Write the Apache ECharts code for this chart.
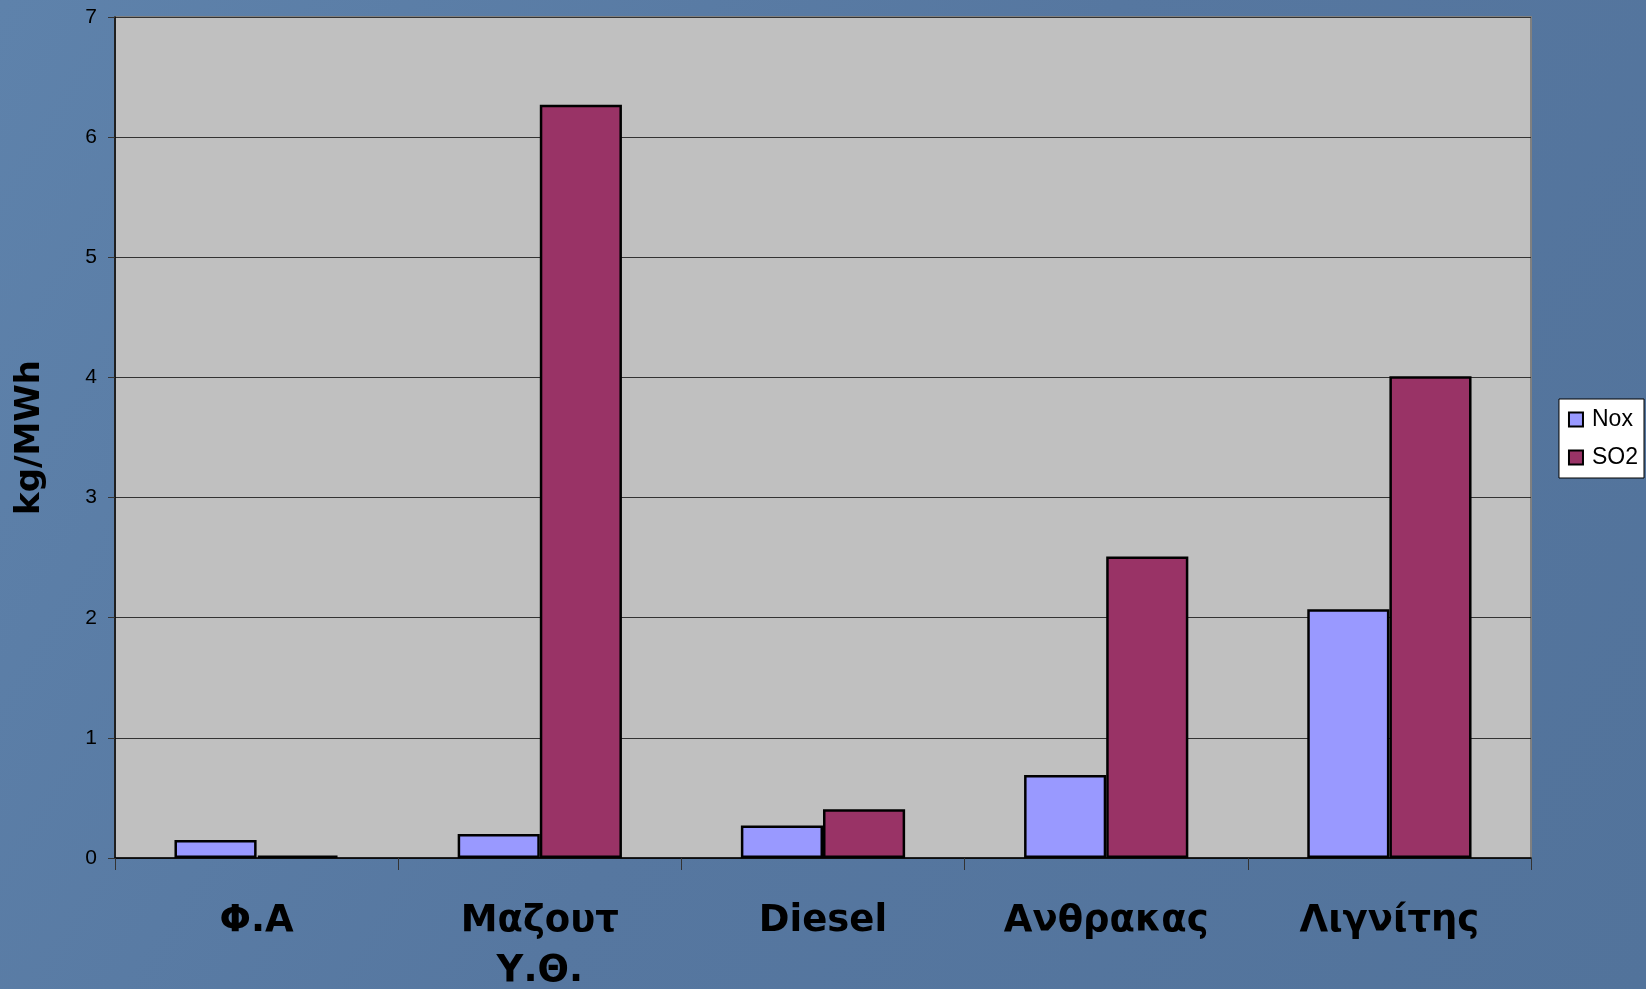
<!DOCTYPE html>
<html><head><meta charset="utf-8">
<script src="https://cdn.jsdelivr.net/npm/echarts@6/dist/echarts.min.js"></script>
<style>html,body{margin:0;padding:0;background:#5879a1;}#c{width:1646px;height:989px;}</style>
</head><body><div id="c"></div>
<script>
const categories = ['Φ.Α', 'Μαζουτ\nΥ.Θ.', 'Diesel', 'Ανθρακας', 'Λιγνίτης'];
const noxValues = [0.15, 0.2, 0.27, 0.69, 2.07];
const so2Values = [0.02, 6.27, 0.405, 2.51, 4.01];
const yTicks = [0, 1, 2, 3, 4, 5, 6, 7];

const chart = echarts.init(document.getElementById('c'), null, {renderer: 'canvas'});
const font = '"Liberation Sans", Arial, sans-serif';
const boldFont = '"DejaVu Sans", Verdana, sans-serif';
chart.setOption({
  backgroundColor: {
    type: 'linear', x: 0, y: 0, x2: 1, y2: 1,
    colorStops: [{offset: 0, color: '#5e82ab'}, {offset: 0.5, color: '#5677a0'}, {offset: 1, color: '#52739b'}]
  },
  animation: false,
  grid: {left: 115, right: 115, top: 17, bottom: 131, outerBoundsMode: 'none', containLabel: false,
         show: true, backgroundColor: '#c0c0c0', borderColor: '#808080', borderWidth: 2},
  legend: {
    data: ['Nox', 'SO2'], orient: 'vertical', right: 2, top: 399,
    backgroundColor: '#ffffff', borderColor: '#000000', borderWidth: 1,
    padding: [9, 6, 9, 9], itemGap: 15, itemWidth: 14, itemHeight: 14,
    textStyle: {fontFamily: font, fontSize: 23, color: '#000', padding: [0, 0, 0, 4]},
    icon: 'rect'
  },
  xAxis: {
    type: 'category', data: categories,
    axisLine: {lineStyle: {color: '#000', width: 1.5}},
    axisTick: {show: true, length: 12, lineStyle: {color: '#333'}},
    axisLabel: {fontFamily: boldFont, fontSize: 37, fontWeight: 'bold', color: '#000', margin: 38, lineHeight: 50},
  },
  yAxis: {
    type: 'value', min: 0, max: 7, interval: 1,
    name: 'kg/MWh', nameLocation: 'middle', nameGap: 68, nameRotate: 90,
    nameTextStyle: {fontFamily: boldFont, fontSize: 34, fontWeight: 'bold', color: '#000'},
    axisLine: {show: true, lineStyle: {color: '#000', width: 1.5}},
    axisTick: {show: true, length: 7, lineStyle: {color: '#333'}},
    axisLabel: {fontFamily: font, fontSize: 21, color: '#000', margin: 18,
      formatter: v => yTicks.includes(v) ? String(v) : ''},
    splitLine: {show: true, lineStyle: {color: '#333', width: 1.2}}
  },
  series: [
    {name: 'Nox', type: 'bar', data: noxValues, barGap: '0%', barCategoryGap: '42%',
     itemStyle: {color: '#9999ff', borderColor: '#000', borderWidth: 2.5}},
    {name: 'SO2', type: 'bar', data: so2Values, barGap: '0%', barCategoryGap: '42%',
     itemStyle: {color: '#993366', borderColor: '#000', borderWidth: 2.5}}
  ]
});
</script></body></html>
